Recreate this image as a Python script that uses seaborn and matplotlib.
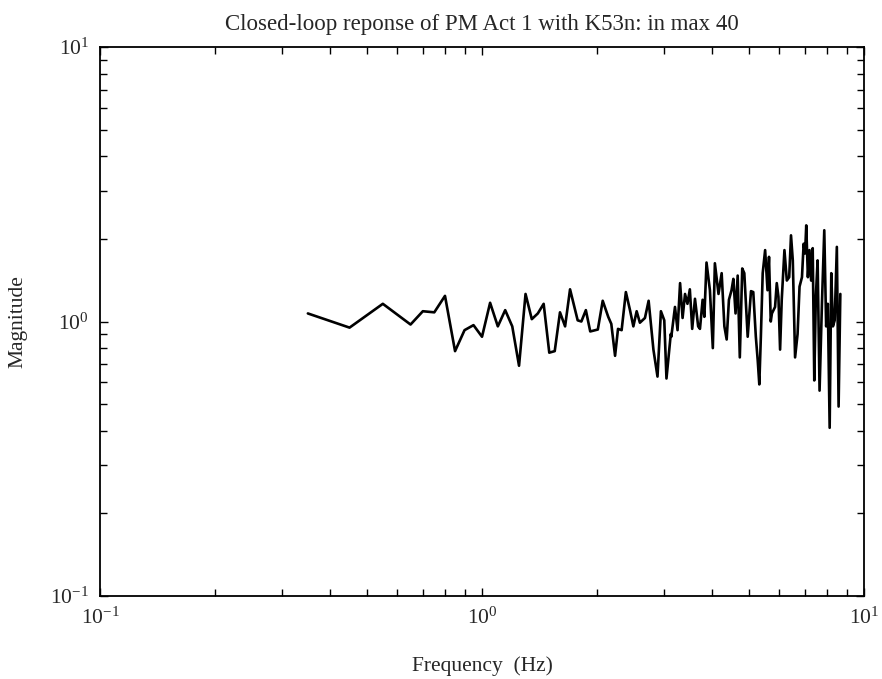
import numpy as np
import pandas as pd
import seaborn as sns
import matplotlib.pyplot as plt
from matplotlib.ticker import LogLocator

# frequency (Hz) and magnitude
freq = [
    0.35, 0.45, 0.55, 0.65, 0.70, 0.75, 0.80, 0.85, 0.90, 0.95,
    1.00, 1.05, 1.10, 1.15, 1.20, 1.25, 1.30, 1.35, 1.40, 1.45,
    1.50, 1.55, 1.60, 1.65, 1.70, 1.78, 1.82, 1.87, 1.92, 2.01,
    2.07, 2.14, 2.18, 2.23, 2.27, 2.32, 2.38, 2.44, 2.49, 2.54,
    2.59, 2.67, 2.73, 2.81, 2.88, 2.94, 3.00, 3.04, 3.12, 3.13,
    3.20, 3.25, 3.30, 3.35, 3.40, 3.45, 3.50, 3.55, 3.61, 3.68,
    3.72, 3.78, 3.82, 3.87, 3.95, 4.02, 4.07, 4.16, 4.24, 4.31,
    4.37, 4.43, 4.50, 4.55, 4.61, 4.67, 4.73, 4.80, 4.86, 4.96,
    5.06, 5.13, 5.21, 5.27, 5.32, 5.37, 5.43, 5.51, 5.59, 5.64,
    5.70, 5.74, 5.85, 5.91, 5.97, 6.03, 6.09, 6.19, 6.28, 6.37,
    6.44, 6.51, 6.60, 6.70, 6.78, 6.88, 6.95, 7.01, 7.06, 7.13,
    7.20, 7.27, 7.34, 7.41, 7.48, 7.56, 7.65, 7.76, 7.87, 7.96,
    8.04, 8.13, 8.21, 8.29, 8.38, 8.49, 8.58, 8.67,
]
magnitude = [
    1.07, 0.95, 1.16, 0.975, 1.09, 1.08, 1.24, 0.78, 0.93, 0.97,
    0.88, 1.17, 0.96, 1.10, 0.96, 0.69, 1.26, 1.02, 1.07, 1.16,
    0.77, 0.78, 1.08, 0.96, 1.31, 1.01, 1.00, 1.10, 0.92, 0.935,
    1.19, 1.04, 0.98, 0.75, 0.94, 0.93, 1.28, 1.10, 0.96, 1.09,
    0.99, 1.03, 1.19, 0.79, 0.63, 1.09, 1.01, 0.62, 0.90, 0.88,
    1.13, 0.93, 1.38, 1.03, 1.26, 1.16, 1.31, 0.94, 1.21, 0.96,
    0.94, 1.20, 1.04, 1.64, 1.30, 0.80, 1.63, 1.26, 1.50, 0.96,
    0.86, 1.20, 1.30, 1.43, 1.07, 1.47, 0.74, 1.56, 1.50, 0.88,
    1.29, 1.28, 0.88, 0.72, 0.59, 0.88, 1.50, 1.82, 1.30, 1.72,
    1.00, 1.07, 1.13, 1.38, 1.23, 0.79, 1.20, 1.82, 1.41, 1.45,
    2.06, 1.67, 0.74, 0.90, 1.34, 1.45, 1.92, 1.77, 2.24, 1.45,
    1.82, 1.41, 1.85, 0.61, 1.23, 1.67, 0.56, 1.16, 2.15, 0.96,
    1.16, 0.41, 1.50, 0.96, 1.01, 1.87, 0.49, 1.26,
]

df = pd.DataFrame({"Frequency": freq, "Magnitude": magnitude})

sns.set_theme(style="ticks")
plt.rcParams["font.family"] = ["Liberation Serif", "DejaVu Serif"]
plt.rcParams["mathtext.fontset"] = "custom"
plt.rcParams["mathtext.rm"] = "Liberation Serif"
plt.rcParams["mathtext.it"] = "Liberation Serif:italic"
plt.rcParams["axes.unicode_minus"] = False

fig = plt.figure(figsize=(8.82, 6.79), dpi=100)
ax = fig.add_axes([0.1134, 0.1222, 0.8662, 0.8086])

sns.lineplot(data=df, x="Frequency", y="Magnitude", color="black",
             linewidth=1.9, estimator=None, ax=ax)

ax.set_xscale("log")
ax.set_yscale("log")
ax.set_xlim(0.1, 10)
ax.set_ylim(0.1, 10)
ax.xaxis.set_major_locator(LogLocator(base=10))
ax.yaxis.set_major_locator(LogLocator(base=10))
ax.xaxis.set_minor_locator(LogLocator(base=10, subs=np.arange(2, 10)))
ax.yaxis.set_minor_locator(LogLocator(base=10, subs=np.arange(2, 10)))
ax.xaxis.set_minor_formatter(plt.NullFormatter())
ax.yaxis.set_minor_formatter(plt.NullFormatter())

ax.tick_params(which="both", direction="in", top=True, right=True,
               color="black", width=1.0)
ax.tick_params(which="major", length=6, labelsize=15.5, pad=8)
ax.tick_params(which="minor", length=5)
for s in ax.spines.values():
    s.set_linewidth(1.3)
    s.set_color("black")

ax.set_title("Closed-loop reponse of PM Act 1 with K53n: in max 40",
             fontsize=16.5, pad=12)
ax.set_xlabel("Frequency  (Hz)", fontsize=15.5, labelpad=20)
ax.set_ylabel("Magnitude", fontsize=15.5, labelpad=16)

fig.savefig("out.png", dpi=100)
